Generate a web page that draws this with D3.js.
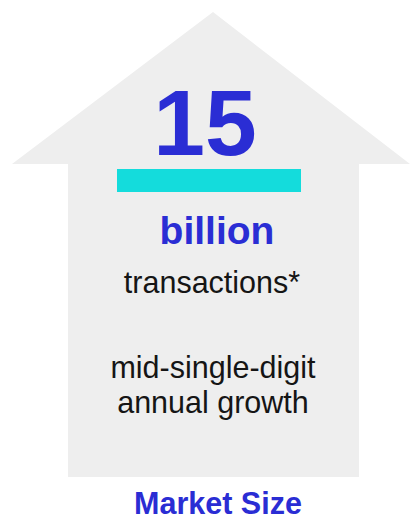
<!DOCTYPE html>
<html>
<head>
<meta charset="utf-8">
<script src="https://cdn.jsdelivr.net/npm/d3@7"></script>
<style>
  html, body { margin: 0; padding: 0; background: #ffffff; }
  svg { display: block; }
</style>
</head>
<body>
<div id="chart"></div>
<script>
// Figures shown in the market-size arrow
const headlineValue = [15];
const unitLabel = ["billion"];
const metricLines = ["transactions*"];
const growthLines = ["mid-single-digit", "annual growth"];
const footerLabel = ["Market Size"];

const W = 410, H = 521;
const BLUE = "#2a2dd4";
const CYAN = "#14dcdc";
const GREY = "#eeeeee";
const FONT = "'Liberation Sans', Arial, Helvetica, sans-serif";

const svg = d3.select("#chart").append("svg")
  .attr("width", W).attr("height", H);

// Arrow outline in unit coordinates, mapped to the page through linear scales
const x = d3.scaleLinear().domain([0, 1]).range([12, 410]);
const y = d3.scaleLinear().domain([0, 1]).range([12, 477]);
const shaftL = (68 - 12) / 398, shaftR = (359 - 12) / 398;
const headBase = (164 - 12) / 465;
const tipX = (213 - 12) / 398;
const arrowPts = [
  [tipX, 0], [1, headBase], [shaftR, headBase], [shaftR, 1],
  [shaftL, 1], [shaftL, headBase], [0, headBase]
];
svg.append("path")
  .attr("d", d3.line().x(d => x(d[0])).y(d => y(d[1]))(arrowPts) + "Z")
  .attr("fill", GREY);

// Headline number
svg.selectAll("text.value").data(headlineValue).join("text")
  .attr("class", "value")
  .attr("x", 205).attr("y", 155)
  .attr("text-anchor", "middle")
  .attr("font-family", FONT).attr("font-weight", "bold")
  .attr("font-size", 93).attr("fill", BLUE)
  .text(d => d3.format("d")(d));

// Accent bar under the number
svg.append("rect")
  .attr("x", 117).attr("y", 169).attr("width", 184).attr("height", 23)
  .attr("fill", CYAN);

// Unit
svg.selectAll("text.unit").data(unitLabel).join("text")
  .attr("class", "unit")
  .attr("x", 217).attr("y", 244)
  .attr("text-anchor", "middle")
  .attr("font-family", FONT).attr("font-weight", "bold")
  .attr("font-size", 39).attr("fill", BLUE)
  .text(d => d);

// Metric description
svg.selectAll("text.metric").data(metricLines).join("text")
  .attr("class", "metric")
  .attr("x", 212).attr("y", 293)
  .attr("text-anchor", "middle")
  .attr("font-family", FONT)
  .attr("font-size", 30.5).attr("fill", "#151515")
  .text(d => d);

// Growth description
svg.selectAll("text.growth").data(growthLines).join("text")
  .attr("class", "growth")
  .attr("x", 213).attr("y", (d, i) => 378 + i * 35)
  .attr("text-anchor", "middle")
  .attr("font-family", FONT)
  .attr("font-size", 30.5).attr("fill", "#151515")
  .text(d => d);

// Footer caption
svg.selectAll("text.footer").data(footerLabel).join("text")
  .attr("class", "footer")
  .attr("x", 218).attr("y", 514)
  .attr("text-anchor", "middle")
  .attr("font-family", FONT).attr("font-weight", "bold")
  .attr("font-size", 30.5).attr("fill", BLUE)
  .text(d => d);
</script>
</body>
</html>
